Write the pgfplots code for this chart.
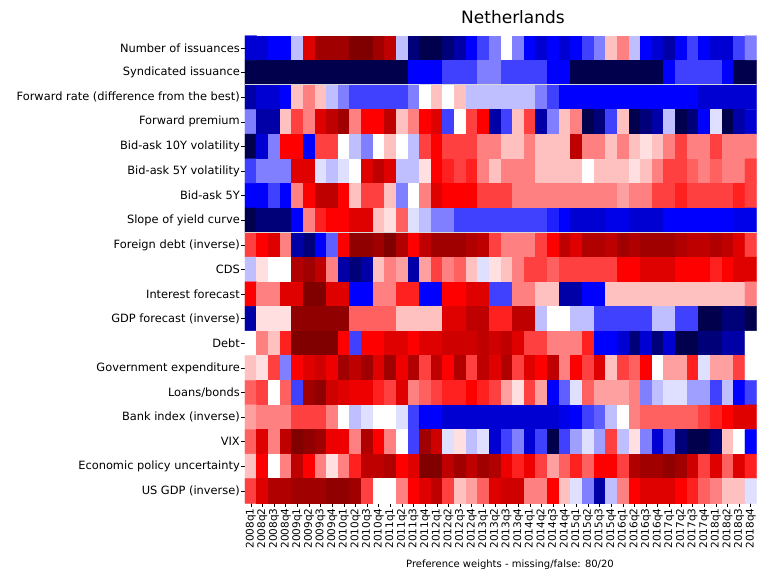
\documentclass[border=0pt]{standalone}
\usepackage{fontspec}
\setmainfont{DejaVu Sans}
\usepackage{pgfplots}
\pgfplotsset{compat=1.18}

\begin{document}
\begin{tikzpicture}[x=1pt,y=1pt]
\begin{axis}[
  at={(245pt,72.7pt)}, anchor=south west,
  scale only axis, width=511.6pt, height=467.6pt,
  enlargelimits=false,
  xmin=-0.5, xmax=43.5, ymin=-0.5, ymax=18.5,
  y dir=reverse,
  axis line style={draw=none},
  tick align=outside, major tick length=3.5pt,
  tick style={black, line width=0.6pt},
  xtick pos=bottom, ytick pos=left,
  xtick={0,...,43}, ytick={0,...,18},
  xticklabels={2008q1,2008q2,2008q3,2008q4,2009q1,2009q2,2009q3,2009q4,2010q1,2010q2,2010q3,2010q4,2011q1,2011q2,2011q3,2011q4,2012q1,2012q2,2012q3,2012q4,2013q1,2013q2,2013q3,2013q4,2014q1,2014q2,2014q3,2014q4,2015q1,2015q2,2015q3,2015q4,2016q1,2016q2,2016q3,2016q4,2017q1,2017q2,2017q3,2017q4,2018q1,2018q2,2018q3,2018q4},
  yticklabels={Number of issuances,Syndicated issuance,Forward rate (difference from the best),Forward premium,Bid-ask 10Y volatility,Bid-ask 5Y volatility,Bid-ask 5Y,Slope of yield curve,Foreign debt (inverse),CDS,Interest forecast,GDP forecast (inverse),Debt,Government expenditure,Loans/bonds,Bank index (inverse),VIX,Economic policy uncertainty,US GDP (inverse)},
  xticklabel style={rotate=90, anchor=east, font=\fontsize{10.5}{12}\selectfont, inner sep=1.5pt},
  yticklabel style={font=\fontsize{11.4}{13}\selectfont, inner sep=1.5pt},
  colormap={seismic}{rgb=(0,0,0.3) rgb=(0,0,1) rgb=(1,1,1) rgb=(1,0,0) rgb=(0.5,0,0)},
  point meta min=0, point meta max=16,
]
\addplot[matrix plot*, mesh/cols=44, point meta=explicit] coordinates {
(0,0)[3] (1,0)[3] (2,0)[4] (3,0)[4] (4,0)[7] (5,0)[13] (6,0)[15] (7,0)[15] (8,0)[15] (9,0)[16] (10,0)[16] (11,0)[15] (12,0)[14] (13,0)[7] (14,0)[1] (15,0)[0] (16,0)[0] (17,0)[1] (18,0)[2] (19,0)[4] (20,0)[5] (21,0)[6] (22,0)[8] (23,0)[6] (24,0)[4] (25,0)[3] (26,0)[4] (27,0)[3] (28,0)[4] (29,0)[5] (30,0)[6] (31,0)[9] (32,0)[10] (33,0)[7] (34,0)[4] (35,0)[3] (36,0)[2] (37,0)[4] (38,0)[5] (39,0)[4] (40,0)[3] (41,0)[3] (42,0)[5] (43,0)[6]

(0,1)[0] (1,1)[0] (2,1)[0] (3,1)[0] (4,1)[0] (5,1)[0] (6,1)[0] (7,1)[0] (8,1)[0] (9,1)[0] (10,1)[0] (11,1)[0] (12,1)[0] (13,1)[0] (14,1)[4] (15,1)[4] (16,1)[4] (17,1)[5] (18,1)[5] (19,1)[5] (20,1)[6] (21,1)[6] (22,1)[5] (23,1)[5] (24,1)[5] (25,1)[5] (26,1)[4] (27,1)[4] (28,1)[0] (29,1)[0] (30,1)[0] (31,1)[0] (32,1)[0] (33,1)[0] (34,1)[0] (35,1)[0] (36,1)[4] (37,1)[5] (38,1)[5] (39,1)[5] (40,1)[5] (41,1)[4] (42,1)[0] (43,1)[0]

(0,2)[2] (1,2)[3] (2,2)[3] (3,2)[4] (4,2)[9] (5,2)[10] (6,2)[9] (7,2)[7] (8,2)[6] (9,2)[5] (10,2)[5] (11,2)[5] (12,2)[5] (13,2)[5] (14,2)[6] (15,2)[8] (16,2)[9] (17,2)[8] (18,2)[9] (19,2)[7] (20,2)[7] (21,2)[7] (22,2)[7] (23,2)[7] (24,2)[7] (25,2)[6] (26,2)[5] (27,2)[4] (28,2)[4] (29,2)[4] (30,2)[4] (31,2)[4] (32,2)[4] (33,2)[4] (34,2)[4] (35,2)[4] (36,2)[4] (37,2)[4] (38,2)[4] (39,2)[3] (40,2)[3] (41,2)[3] (42,2)[3] (43,2)[3]

(0,3)[6] (1,3)[2] (2,3)[2] (3,3)[9] (4,3)[11] (5,3)[10] (6,3)[13] (7,3)[14] (8,3)[15] (9,3)[10] (10,3)[12] (11,3)[12] (12,3)[14] (13,3)[9] (14,3)[10] (15,3)[12] (16,3)[13] (17,3)[5] (18,3)[8] (19,3)[11] (20,3)[12] (21,3)[2] (22,3)[5] (23,3)[9] (24,3)[11] (25,3)[2] (26,3)[6] (27,3)[9] (28,3)[10] (29,3)[0] (30,3)[1] (31,3)[5] (32,3)[9] (33,3)[0] (34,3)[1] (35,3)[2] (36,3)[7] (37,3)[0] (38,3)[1] (39,3)[4] (40,3)[7.5] (41,3)[0] (42,3)[2] (43,3)[3]

(0,4)[0] (1,4)[3] (2,4)[6] (3,4)[12] (4,4)[12] (5,4)[4] (6,4)[11] (7,4)[11] (8,4)[8] (9,4)[7] (10,4)[6] (11,4)[8] (12,4)[9] (13,4)[8] (14,4)[7] (15,4)[11] (16,4)[12] (17,4)[11] (18,4)[11] (19,4)[11] (20,4)[10] (21,4)[10] (22,4)[9] (23,4)[9] (24,4)[10] (25,4)[9] (26,4)[9] (27,4)[9] (28,4)[14] (29,4)[10] (30,4)[10] (31,4)[9] (32,4)[10] (33,4)[9] (34,4)[8.5] (35,4)[9] (36,4)[10] (37,4)[11] (38,4)[10] (39,4)[10] (40,4)[11] (41,4)[10] (42,4)[10] (43,4)[10]

(0,5)[5] (1,5)[6] (2,5)[6] (3,5)[6] (4,5)[13] (5,5)[13] (6,5)[7.5] (7,5)[7] (8,5)[7.5] (9,5)[8] (10,5)[13] (11,5)[14] (12,5)[13] (13,5)[7] (14,5)[7] (15,5)[8.5] (16,5)[12] (17,5)[11.5] (18,5)[11] (19,5)[11.5] (20,5)[10] (21,5)[9] (22,5)[10] (23,5)[10] (24,5)[10] (25,5)[9] (26,5)[9] (27,5)[9] (28,5)[9] (29,5)[8] (30,5)[9] (31,5)[9] (32,5)[9] (33,5)[8.5] (34,5)[9] (35,5)[10] (36,5)[11] (37,5)[11] (38,5)[10.5] (39,5)[10] (40,5)[10.5] (41,5)[10] (42,5)[10] (43,5)[11]

(0,6)[4] (1,6)[4] (2,6)[5] (3,6)[4] (4,6)[10] (5,6)[12] (6,6)[14] (7,6)[14] (8,6)[12] (9,6)[9] (10,6)[11] (11,6)[11] (12,6)[9] (13,6)[6] (14,6)[8] (15,6)[10] (16,6)[13] (17,6)[12] (18,6)[12] (19,6)[12] (20,6)[11] (21,6)[11] (22,6)[11] (23,6)[10] (24,6)[10] (25,6)[10] (26,6)[10] (27,6)[10] (28,6)[10] (29,6)[10] (30,6)[10] (31,6)[10] (32,6)[9.5] (33,6)[10] (34,6)[10] (35,6)[11] (36,6)[11] (37,6)[11.5] (38,6)[11] (39,6)[11] (40,6)[11] (41,6)[11] (42,6)[11.5] (43,6)[11]

(0,7)[0] (1,7)[1] (2,7)[1] (3,7)[1] (4,7)[4] (5,7)[10] (6,7)[11.5] (7,7)[12] (8,7)[12] (9,7)[13] (10,7)[13] (11,7)[9] (12,7)[8.5] (13,7)[10.5] (14,7)[7.5] (15,7)[7] (16,7)[6] (17,7)[6] (18,7)[5] (19,7)[5] (20,7)[5] (21,7)[5] (22,7)[5] (23,7)[5] (24,7)[5] (25,7)[5] (26,7)[4.5] (27,7)[4] (28,7)[3] (29,7)[3] (30,7)[3] (31,7)[3.5] (32,7)[3.5] (33,7)[3] (34,7)[3] (35,7)[3] (36,7)[4] (37,7)[4] (38,7)[4] (39,7)[4] (40,7)[4] (41,7)[4] (42,7)[3.5] (43,7)[3.5]

(0,8)[11] (1,8)[12] (2,8)[13] (3,8)[10] (4,8)[2] (5,8)[1] (6,8)[4] (7,8)[5.5] (8,8)[12] (9,8)[15.5] (10,8)[15.5] (11,8)[15] (12,8)[16] (13,8)[14.5] (14,8)[12] (15,8)[14] (16,8)[15] (17,8)[15] (18,8)[15] (19,8)[14.5] (20,8)[14] (21,8)[11] (22,8)[10] (23,8)[10] (24,8)[10] (25,8)[11] (26,8)[12] (27,8)[14] (28,8)[13] (29,8)[14.5] (30,8)[14.5] (31,8)[14] (32,8)[15] (33,8)[14.5] (34,8)[15] (35,8)[15] (36,8)[15] (37,8)[14.5] (38,8)[14] (39,8)[14] (40,8)[14.5] (41,8)[14] (42,8)[13] (43,8)[11]

(0,9)[7] (1,9)[8.5] (2,9)[8] (3,9)[8] (4,9)[14.5] (5,9)[15] (6,9)[14] (7,9)[10] (8,9)[2] (9,9)[1] (10,9)[2] (11,9)[9] (12,9)[10] (13,9)[9.5] (14,9)[2] (15,9)[9.5] (16,9)[11] (17,9)[10] (18,9)[10.5] (19,9)[9] (20,9)[7.5] (21,9)[8.5] (22,9)[9] (23,9)[10] (24,9)[11] (25,9)[11] (26,9)[10.5] (27,9)[11] (28,9)[11] (29,9)[11] (30,9)[11] (31,9)[11] (32,9)[12] (33,9)[12] (34,9)[13] (35,9)[13] (36,9)[13] (37,9)[12] (38,9)[12] (39,9)[12] (40,9)[11.5] (41,9)[12] (42,9)[13] (43,9)[13]

(0,10)[12] (1,10)[10] (2,10)[10] (3,10)[13] (4,10)[13] (5,10)[16] (6,10)[16] (7,10)[13] (8,10)[13] (9,10)[4] (10,10)[4] (11,10)[10] (12,10)[10] (13,10)[11.5] (14,10)[11.5] (15,10)[4] (16,10)[4] (17,10)[12] (18,10)[12] (19,10)[13] (20,10)[13] (21,10)[5] (22,10)[5] (23,10)[10] (24,10)[10] (25,10)[9] (26,10)[9] (27,10)[2] (28,10)[2] (29,10)[4] (30,10)[4] (31,10)[9] (32,10)[9] (33,10)[9] (34,10)[9] (35,10)[9] (36,10)[9] (37,10)[9] (38,10)[9] (39,10)[9] (40,10)[9] (41,10)[9] (42,10)[9] (43,10)[10]

(0,11)[2] (1,11)[8.5] (2,11)[8.5] (3,11)[8.5] (4,11)[15.5] (5,11)[15.5] (6,11)[15.5] (7,11)[15.5] (8,11)[15.5] (9,11)[10.5] (10,11)[10.5] (11,11)[10.5] (12,11)[10.5] (13,11)[9] (14,11)[9] (15,11)[9] (16,11)[9] (17,11)[13] (18,11)[13] (19,11)[14] (20,11)[14] (21,11)[11.5] (22,11)[11.5] (23,11)[14] (24,11)[14] (25,11)[7] (26,11)[8] (27,11)[8] (28,11)[7] (29,11)[7] (30,11)[5] (31,11)[5] (32,11)[5] (33,11)[5] (34,11)[5] (35,11)[7] (36,11)[7] (37,11)[5] (38,11)[5] (39,11)[0] (40,11)[0] (41,11)[1] (42,11)[1] (43,11)[0]

(0,12)[8] (1,12)[10] (2,12)[9] (3,12)[11.5] (4,12)[16] (5,12)[16] (6,12)[16] (7,12)[16] (8,12)[12] (9,12)[5] (10,12)[12] (11,12)[12] (12,12)[13] (13,12)[13] (14,12)[12] (15,12)[13] (16,12)[13] (17,12)[13.5] (18,12)[13.5] (19,12)[13.5] (20,12)[14] (21,12)[13.5] (22,12)[14] (23,12)[13] (24,12)[11] (25,12)[11] (26,12)[10] (27,12)[10] (28,12)[10] (29,12)[11.5] (30,12)[4] (31,12)[4] (32,12)[3] (33,12)[1] (34,12)[3] (35,12)[1] (36,12)[3] (37,12)[0] (38,12)[0] (39,12)[1] (40,12)[1] (41,12)[2] (42,12)[2] (43,12)[8]

(0,13)[9] (1,13)[8.5] (2,13)[11] (3,13)[6] (4,13)[12] (5,13)[13] (6,13)[13.5] (7,13)[12.5] (8,13)[15] (9,13)[14] (10,13)[15] (11,13)[13] (12,13)[15] (13,13)[12.5] (14,13)[14.5] (15,13)[11] (16,13)[14] (17,13)[12] (18,13)[14.5] (19,13)[11] (20,13)[14] (21,13)[13] (22,13)[14.5] (23,13)[11] (24,13)[13] (25,13)[12] (26,13)[14] (27,13)[10] (28,13)[12] (29,13)[11] (30,13)[13] (31,13)[9] (32,13)[11] (33,13)[10.5] (34,13)[12] (35,13)[8] (36,13)[9.5] (37,13)[9.5] (38,13)[11.5] (39,13)[7.5] (40,13)[9.5] (41,13)[9.5] (42,13)[11] (43,13)[8]

(0,14)[10.5] (1,14)[11] (2,14)[8] (3,14)[10.5] (4,14)[5] (5,14)[15] (6,14)[15.5] (7,14)[13.5] (8,14)[13] (9,14)[12.5] (10,14)[12.5] (11,14)[11.5] (12,14)[11] (13,14)[13] (14,14)[10] (15,14)[10.5] (16,14)[11] (17,14)[11.5] (18,14)[11.5] (19,14)[12] (20,14)[11.5] (21,14)[11] (22,14)[9.5] (23,14)[8.5] (24,14)[11] (25,14)[9.5] (26,14)[4] (27,14)[5.5] (28,14)[7.5] (29,14)[10.5] (30,14)[9.5] (31,14)[9.5] (32,14)[9.5] (33,14)[10] (34,14)[6] (35,14)[7] (36,14)[7.5] (37,14)[7.5] (38,14)[6.5] (39,14)[6.5] (40,14)[5] (41,14)[7] (42,14)[4] (43,14)[5]

(0,15)[9.5] (1,15)[10] (2,15)[10] (3,15)[10] (4,15)[11] (5,15)[11] (6,15)[11] (7,15)[10] (8,15)[8] (9,15)[7] (10,15)[7.5] (11,15)[8] (12,15)[8] (13,15)[7.5] (14,15)[5] (15,15)[4] (16,15)[4] (17,15)[3] (18,15)[3] (19,15)[3] (20,15)[3] (21,15)[3] (22,15)[3] (23,15)[3] (24,15)[3] (25,15)[3] (26,15)[3] (27,15)[3.5] (28,15)[4] (29,15)[5] (30,15)[5.5] (31,15)[7] (32,15)[8] (33,15)[10] (34,15)[10.5] (35,15)[10.5] (36,15)[10.5] (37,15)[10.5] (38,15)[10.5] (39,15)[11] (40,15)[11.5] (41,15)[12] (42,15)[13] (43,15)[13]

(0,16)[10.5] (1,16)[13] (2,16)[10] (3,16)[14] (4,16)[16] (5,16)[15.5] (6,16)[15] (7,16)[12.5] (8,16)[12.5] (9,16)[10] (10,16)[14.5] (11,16)[12] (12,16)[10] (13,16)[8] (14,16)[5] (15,16)[15] (16,16)[13.5] (17,16)[7.5] (18,16)[8.5] (19,16)[7] (20,16)[7.5] (21,16)[3] (22,16)[5] (23,16)[6] (24,16)[3] (25,16)[5] (26,16)[0] (27,16)[5] (28,16)[6.5] (29,16)[7.5] (30,16)[6.5] (31,16)[11] (32,16)[7] (33,16)[8.5] (34,16)[6] (35,16)[3] (36,16)[5.5] (37,16)[1] (38,16)[0] (39,16)[0] (40,16)[1] (41,16)[9] (42,16)[8] (43,16)[4]

(0,17)[9] (1,17)[12] (2,17)[8] (3,17)[10] (4,17)[14] (5,17)[12] (6,17)[10] (7,17)[8.5] (8,17)[10] (9,17)[11.5] (10,17)[14] (11,17)[14] (12,17)[14.5] (13,17)[12] (14,17)[13] (15,17)[16] (16,17)[16] (17,17)[14] (18,17)[15] (19,17)[14] (20,17)[15] (21,17)[14.5] (22,17)[12.5] (23,17)[11.5] (24,17)[12.5] (25,17)[11] (26,17)[9.5] (27,17)[10.5] (28,17)[11.5] (29,17)[10.5] (30,17)[12] (31,17)[12] (32,17)[11] (33,17)[14.5] (34,17)[15] (35,17)[15] (36,17)[15.5] (37,17)[15] (38,17)[13.5] (39,17)[11] (40,17)[13] (41,17)[10.5] (42,17)[13] (43,17)[11.5]

(0,18)[11] (1,18)[13] (2,18)[14.5] (3,18)[14.5] (4,18)[15] (5,18)[15] (6,18)[15] (7,18)[15.5] (8,18)[15.5] (9,18)[15] (10,18)[11] (11,18)[8] (12,18)[8] (13,18)[10] (14,18)[12] (15,18)[13] (16,18)[14] (17,18)[11] (18,18)[9] (19,18)[9.5] (20,18)[10.5] (21,18)[13] (22,18)[13.5] (23,18)[13.5] (24,18)[10] (25,18)[10] (26,18)[12] (27,18)[9] (28,18)[7.5] (29,18)[6] (30,18)[2] (31,18)[7] (32,18)[10] (33,18)[12] (34,18)[13] (35,18)[13] (36,18)[13] (37,18)[12] (38,18)[11.5] (39,18)[10.5] (40,18)[10] (41,18)[9] (42,18)[9] (43,18)[7.5]
};
\addplot[forget plot, gray!30, line width=1pt] coordinates {(-0.5,1.5) (43.5,1.5)};
\addplot[forget plot, gray!30, line width=1pt] coordinates {(-0.5,7.5) (43.5,7.5)};
\end{axis}
\node[font=\fontsize{17}{20}\selectfont] at (513,559) {Netherlands};
\node[font=\fontsize{10}{12}\selectfont] at (510,11) {Preference weights - missing/false: 80/20};
\pgfresetboundingbox
\path (0,0) rectangle (758,576);
\end{tikzpicture}
\end{document}
